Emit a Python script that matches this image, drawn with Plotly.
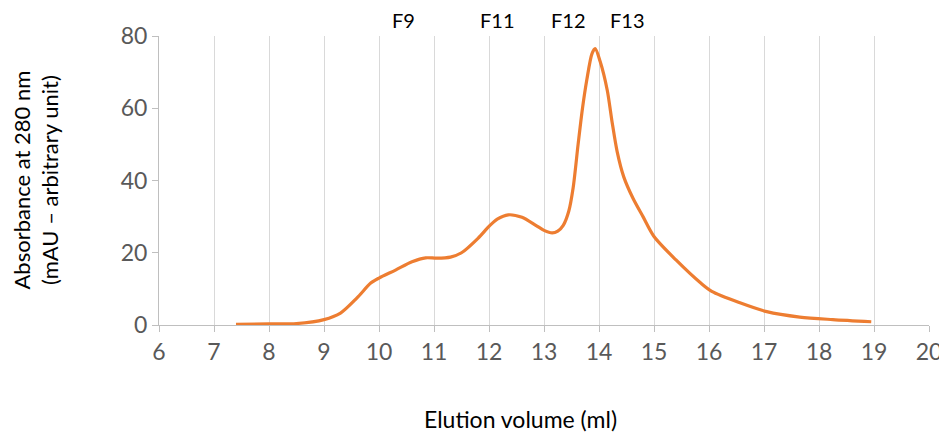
import plotly.graph_objects as go

volume = [7.4, 8.0, 8.5, 9.0, 9.3, 9.6, 9.85, 10.0, 10.3, 10.6, 10.85, 11.05, 11.3, 11.5, 11.8,
          12.0, 12.15, 12.35, 12.6, 12.85, 13.0, 13.15, 13.25, 13.35, 13.45, 13.53, 13.62, 13.7,
          13.78, 13.87, 13.93, 14.02, 14.15, 14.24, 14.33, 14.45, 14.62, 14.8, 15.0, 15.4,
          15.85, 16.05, 16.55, 17.05, 17.65, 18.25, 18.95]
absorbance = [0.2, 0.3, 0.4, 1.5, 3.3, 7.5, 11.6, 13, 15.2, 17.5, 18.6, 18.5, 18.8, 20, 24,
              27.3, 29.3, 30.5, 29.8, 27.6, 26.2, 25.5, 26.0, 27.6, 31.5, 38, 50, 60,
              68, 75, 76.5, 73, 65, 56, 48, 41, 35, 30, 24.5, 18,
              11.6, 9.3, 6.2, 3.7, 2.2, 1.5, 0.9]

fraction_labels = ["F9", "F11", "F12", "F13"]
fraction_pos = [10.44, 12.16, 13.44, 14.51]

font = "Lato"

fig = go.Figure()
fig.add_trace(go.Scatter(x=volume, y=absorbance, mode="lines",
                         line=dict(color="#ED7D31", width=3.2, shape="spline", smoothing=0.8),
                         showlegend=False))

for lab, pos in zip(fraction_labels, fraction_pos):
    fig.add_annotation(x=pos, y=1, xref="x", yref="paper", text=lab, showarrow=False,
                       yanchor="middle", yshift=16, font=dict(family=font, size=20, color="black"))

fig.add_annotation(x=0.47, y=0, xref="paper", yref="paper", text="Elution volume (ml)",
                   showarrow=False, yanchor="middle", yshift=-94,
                   font=dict(family=font, size=23, color="black"))
fig.add_annotation(x=0, y=0.5, xref="paper", yref="paper",
                   text="Absorbance at 280 nm<br>(mAU – arbitrary unit)",
                   showarrow=False, textangle=-90, xanchor="center", xshift=-124,
                   font=dict(family=font, size=22, color="black"))

fig.update_xaxes(range=[6, 20], dtick=1, tick0=6, showgrid=True, gridcolor="#D9D9D9", gridwidth=1,
                 showline=True, linecolor="#BFBFBF", ticks="outside", ticklen=6, tickcolor="#BFBFBF",
                 tickfont=dict(family=font, size=23, color="#595959"), zeroline=False,
                 automargin=False)
fig.update_yaxes(range=[0, 80], dtick=20, showgrid=False, showline=True, linecolor="#BFBFBF",
                 ticks="outside", ticklen=6, tickcolor="#BFBFBF",
                 tickfont=dict(family=font, size=23, color="#595959"), zeroline=False,
                 automargin=False)

# page body has an 8px margin, so the figure is a bit smaller than the window
fig.update_layout(width=939, height=426, margin=dict(l=151, r=18, t=28, b=109),
                  plot_bgcolor="white", paper_bgcolor="white")

fig.write_html("out.html")
